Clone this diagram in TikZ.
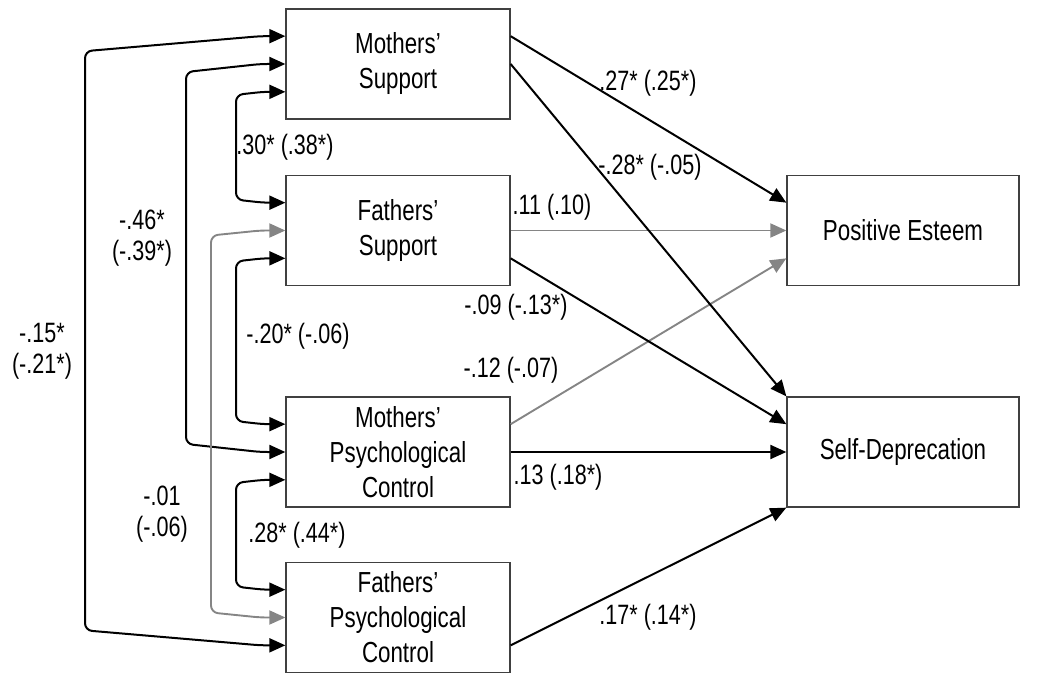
\documentclass[tikz,border=0pt]{standalone}
\usepackage{fontspec}
\setmainfont{Liberation Sans}[FakeStretch=0.77]
\usetikzlibrary{arrows.meta,calc}
\begin{document}
\begin{tikzpicture}[x=1pt,y=-1pt,
  box/.style={draw=black!75, line width=1.3pt, minimum width=224pt, minimum height=110pt,
    align=center, inner sep=0pt, font=\fontsize{29}{35}\selectfont},
  lab/.style={font=\fontsize{28}{31}\selectfont, align=center, inner sep=0pt},
  blk/.style={line width=2pt, draw=black, -{Triangle[length=16pt,width=14pt]}},
  gry/.style={line width=1.9pt, draw=black!48, -{Triangle[length=16pt,width=14pt]}},
  cov/.style={line width=2pt, draw=black, rounded corners=7pt,
    {Triangle[length=16pt,width=14pt]}-{Triangle[length=16pt,width=14pt]}},
  covg/.style={cov, line width=1.9pt, draw=black!48}]
\useasboundingbox (0,0) rectangle (1063,676);

\node[box] (ms) at (398,64) {Mothers’\\Support};
\node[box] (fs) at (398,230.5) {Fathers’\\Support};
\node[box] (mpc) at (398,452) {Mothers’\\Psychological\\Control};
\node[box] (fpc) at (398,617.5) {Fathers’\\Psychological\\Control};
\node[box, minimum width=232pt] (pe) at (903,230.5) {Positive Esteem};
\node[box, minimum width=232pt] (sd) at (903,452) {Self-Deprecation};

\foreach \n in {ms,fs,mpc,fpc,pe,sd} {
  \coordinate (\n-w1) at ($(\n.north west)!0.25!(\n.south west)$);
  \coordinate (\n-w3) at ($(\n.north west)!0.75!(\n.south west)$);
  \coordinate (\n-e1) at ($(\n.north east)!0.25!(\n.south east)$);
  \coordinate (\n-e3) at ($(\n.north east)!0.75!(\n.south east)$);
}
\coordinate (v1) at (85,0);
\coordinate (v2) at (186,0);
\coordinate (v3) at (236,0);
\coordinate (vg) at (211,0);

% paths to outcomes
\draw[gry] (fs.east) -- (pe.west);
\draw[gry] (mpc-e1) -- (pe-w3);
\draw[blk] (ms-e1) -- (pe-w1);
\draw[blk] (ms.east) -- (sd.north west);
\draw[blk] (fs-e3) -- (sd-w1);
\draw[blk] (mpc.east) -- (sd.west);
\draw[blk] (fpc-e3) -- (sd.south west);

% covariances
\draw[cov] (ms-w1) -- ++(-25,0) -- ($(ms-w1 -| v1)+(0,15)$) -- ($(fpc-w3 -| v1)+(0,-15)$) -- ($(fpc-w3)+(-25,0)$) -- (fpc-w3);
\draw[cov] (ms.west) -- ++(-25,0) -- ($(ms.west -| v2)+(0,8)$) -- ($(mpc.west -| v2)+(0,-8)$) -- ($(mpc.west)+(-25,0)$) -- (mpc.west);
\draw[covg] (fs.west) -- ++(-25,0) -- ($(fs.west -| vg)+(0,5)$) -- ($(fpc.west -| vg)+(0,-5)$) -- ($(fpc.west)+(-25,0)$) -- (fpc.west);
\draw[cov] (ms-w3) -- ++(-22,0) -- ($(ms-w3 -| v3)+(0,3)$) -- ($(fs-w1 -| v3)+(0,-3)$) -- ($(fs-w1)+(-22,0)$) -- (fs-w1);
\draw[cov] (fs-w3) -- ++(-22,0) -- ($(fs-w3 -| v3)+(0,3)$) -- ($(mpc-w1 -| v3)+(0,-3)$) -- ($(mpc-w1)+(-22,0)$) -- (mpc-w1);
\draw[cov] (mpc-w3) -- ++(-22,0) -- ($(mpc-w3 -| v3)+(0,3)$) -- ($(fpc-w1 -| v3)+(0,-3)$) -- ($(fpc-w1)+(-22,0)$) -- (fpc-w1);

% labels
\node[lab] (l1) at (648,83) {.27* (.25*)};
\node[lab] (l2) at (650,167) {-.28* (-.05)};
\node[lab] (l3) at (552,207) {.11 (.10)};
\node[lab] (l4) at (516,307) {-.09 (-.13*)};
\node[lab] (l5) at (511,370) {-.12 (-.07)};
\node[lab] (l6) at (558,477) {.13 (.18*)};
\node[lab] (l7) at (648,617) {.17* (.14*)};
\node[lab] (l8) at (285,147) {.30* (.38*)};
\node[lab] (l9) at (142,238) {-.46*\\(-.39*)};
\node[lab] (l10) at (298,336) {-.20* (-.06)};
\node[lab] (l11) at (42,351) {-.15*\\(-.21*)};
\node[lab] (l12) at (162,514) {-.01\\(-.06)};
\node[lab] (l13) at (297,535) {.28* (.44*)};
\end{tikzpicture}
\end{document}
